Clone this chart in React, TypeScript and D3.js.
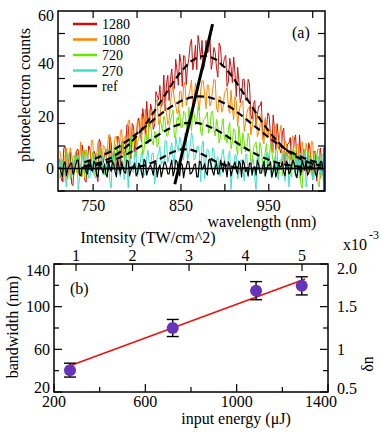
import React from 'react';
import * as d3 from 'd3';

// ---- panel (a): photoelectron spectra
// main samples at 712 + 3i nm, "Mid" samples in between at 713.5 + 3i nm
const specStart = 712;
const specStep = 3;

const spec1280 = [3.5, -5, 8.5, -0.3, 6.2, -6.5, 2.3, 7.2, -2.3, 5, -5.2, 8.6, 1.6, 6.6, -2.7, 11.2, 1.1, 5.5, -0.4, 12.1,
  2.2, 6, 12.3, 1, 10.6, 7.5, 16.3, 3.7, 16, 12.3, 19.2, 10.1, 18.6, 25.6, 15.8, 22.1, 16.5, 27.7, 31.6, 25.2,
  21.9, 35.5, 33.9, 30.6, 41.6, 31.7, 40.3, 43, 32, 42, 49.2, 41.1, 37.7, 46.9, 48.8, 40, 44, 50, 40.8, 44.2,
  34.8, 46.4, 39.2, 43.1, 33, 38.9, 42.5, 27.4, 33, 27.6, 34, 26, 32.4, 18.8, 25.9, 20.6, 23.8, 11.2, 18.6, 21.2,
  12, 20.4, 7.2, 11.7, 5.9, 15.4, 6.5, 9.7, 0.2, 10.7, 2.1, 12.8, -1.3, 5.5, 2.7, 7.2, -4.4, 5.8, 0, 7.8, -2.8];
const spec1280Mid = [-3.6, 7.6, -1.1, 5.4, -5.8, 3.1, 7.2, -1.6, 9, -4.5, 2.9, 7.1, -1.5, 5.2, -5, 9.8, 2.1, 7.4, -1, 10,
  5.7, -0.9, 11.1, 9.4, 3.9, 16.7, 8, 17.1, 6.2, 17, 14.3, 22.8, 12.9, 17.5, 24.6, 14.9, 29.3, 26.1, 23.6, 35.6,
  32.3, 25.9, 37.9, 30.5, 37.5, 43.6, 31.3, 42.7, 39, 47.2, 37.6, 47, 50.7, 41.5, 37.6, 48.8, 44.6, 37.8, 46.1, 38.3,
  47.8, 38.8, 42, 31.3, 42, 32.7, 36.2, 38.6, 25.1, 34, 26, 34, 20.4, 24.4, 16.5, 23.8, 25.5, 13.7, 15.5, 19.8,
  6.6, 15, 17.1, 7.2, 13.5, 2.2, 9.3, 11.8, 3.9, 12.8, -0.6, 5.4, 7.3, -1.1, 9.8, 1.4, 6.7, -4.7, 4.7, -1.9];

const spec1080 = [6.7, -1.6, 4.8, -4.1, 7.9, 1.8, 6.2, -2, 10.1, 1.2, 5, -0.3, 10.6, 1.8, 5, 10.3, 0.2, 8.4, 5.4, 12.9,
  1.6, 12, 8.4, 13.9, 5.5, 12.5, 18.1, 9.1, 14.1, 8.5, 17.7, 20.6, 14.4, 11.1, 22.4, 20.5, 17.1, 26.3, 17.3, 24.3,
  26.5, 16.7, 25, 31.3, 24.2, 21.2, 29.5, 31.3, 24, 27.9, 33.7, 26.2, 29.8, 22.2, 33.4, 27.7, 31.8, 23.8, 29.8, 33.7,
  21.4, 27.2, 23.2, 29.7, 23.4, 29.8, 18.6, 25.6, 21.3, 24.8, 14.1, 21, 23.7, 15.8, 23.4, 12.1, 16.2, 11.2, 19.5, 11.7,
  14.4, 6, 15.1, 7.4, 16.5, 4, 9.6, 7, 10.6, 0.3, 8.9, 3.6, 10.2, 0.7, 6.6, -1.4, 10.1, 2.2, 7.5, -3.9, 3.6];
const spec1080Mid = [4, -5.1, 7.7, 0.9, 5.2, -2.3, 7, 3, -3.1, 7, 5.2, -0.1, 10.8, 2.7, 10.1, 0, 8.9, 5.9, 12.7, 3.4,
  6.8, 12.3, 3.1, 15, 11.5, 8.7, 18.5, 15.1, 8.9, 18.7, 11.8, 17.5, 22.6, 11.5, 21.5, 18.1, 25.2, 16.9, 25.4, 28.9,
  21.3, 18.4, 28.9, 26, 21, 29.2, 23.4, 32.9, 26.3, 30.1, 21.9, 32.6, 25.7, 29.9, 33.4, 22.8, 31.7, 25.8, 33.9, 23,
  27.5, 21.4, 28.6, 30.8, 21, 23.2, 27.4, 16.1, 23.8, 25.8, 17.2, 22.7, 12.8, 18.9, 20.9, 13.8, 21.4, 9.4, 14.2, 15.5,
  7.8, 16.9, 9.2, 13.4, 2.9, 10.7, 4.5, 3.2, 12.5, 4.3, 9.4, -0.8, 6.5, 9.6, 1.6, 10.3, -1.9, 4.2, 7.4, -0.5];

const spec720 = [-3.7, 2.9, 0, 6, -4.1, 4.3, 0.8, 5.1, -2.6, 2.9, 7.2, -1.1, 2.6, -2.6, 4.8, 6.8, 1, -2.3, 7, 4.9,
  1.6, 9.2, 1.2, 7, 8.7, 0.2, 7.3, 12.7, 6.6, 4.2, 11.4, 13.2, 7.2, 10.9, 16.3, 10.4, 14.1, 8.1, 18.4, 14.2,
  18.3, 12.3, 18.2, 22.3, 12.5, 18.3, 15.6, 21.8, 17.2, 23.3, 14.3, 20.9, 17.8, 21.2, 12.6, 18.9, 21.5, 15.1, 21.8, 12.4,
  16, 11.8, 19, 12.4, 14.8, 7.5, 15.2, 8.5, 16.3, 5.5, 10.2, 7.8, 10.8, 1.9, 9.1, 4.4, 9.9, 1.7, 6.7, -0.4,
  9.4, 2.5, 7, -2.9, 3.5, 6.8, -0.6, 4.7, -3.3, 6.8, 1.3, 4.7, -7.5, 7.5, -0.3, 2.6, -2.3, 6.7, -6, 1.2, 5.3];
const spec720Mid = [1.7, -1.3, 6.6, 3.1, -2.9, 5, -1.6, 2.8, 6.5, -3.7, 4.3, 0.8, 6.3, -1.3, 5.5, 8.1, 1.2, -1.6, 7.2, 4.5,
  0, 7, 2, 10.3, 4.8, 8.3, 1.6, 11.2, 5.7, 9.9, 13.5, 5.1, 13.6, 9.4, 17.3, 9, 13.8, 9.7, 16.9, 19.9,
  12.6, 15.6, 20.3, 11.7, 19.3, 22.1, 15.7, 21.3, 13.7, 19.7, 22.1, 16.7, 23.7, 13.9, 18.5, 19.9, 13.5, 21.5, 15, 18.7,
  9.7, 16.3, 10.9, 9.7, 17.5, 10.2, 14.3, 5.2, 11.2, 13.6, 6.3, 13.5, 2.8, 7.6, 10.1, 3, 7.3, -0.9, 9.5, 3,
  6.3, -0.7, 6.9, 3, -2.7, 5.5, 3.6, -1.4, 7.5, 0.2, 6, -6, 4, 0.9, 6.3, -2.3, 0.1, 4.3, -7, 5.4];

const spec270 = [4.1, 1.7, -1.9, 5.3, -3.1, 2.3, 3.5, -8, 1.1, 5.9, -0.7, -3.7, 2.9, 4.1, -2.5, 0.5, 5.3, -1.3, 1.7, -4.9,
  4.7, -0.1, 3.5, -3.1, 2.4, 6, -7.5, 1.4, -1.5, 4.6, -0.1, 6.1, -2.6, 4.3, 1.7, 5.7, -6, 4.8, 8.4, 2.9,
  10.7, 2.3, 7.1, 4, 12.2, 6.5, 9.7, 3.2, 11.6, 5.5, 13.7, 3.2, 8.2, 5.9, 9, -4, 7.3, 2.5, 7.9, -0.4,
  4.5, -2.6, 7.3, 0.4, 4.9, -8, 1.6, 5.1, -2.2, 3.1, -4.8, 5.3, -0.1, 3.5, -3.7, 6.5, -1.3, 1.7, -3.1, 5.9,
  -1.9, 0.5, 4.7, -4.3, 2.3, -0.7, 5.3, -7, 3.5, -0.1, 4.1, -3.7, 1.7, 5.9, -2.5, 1.1, -4.3, 2.9, 4.7, -1.3, -4.9];
const spec270Mid = [-0.7, 2.3, -7, 4.1, -1.9, 1.7, 4.7, -4.3, 3.5, -1.3, 5.9, -3.1, 1.1, -3.7, 2.9, 5.3, -2.5, -0.1, 4.1, -7.5,
  2.3, 4.7, -1.9, 3.6, -4.2, 1.9, 4.4, -1, 6.4, -3.2, 1.8, 3.9, -1.9, 6.9, 1.3, 5.9, -2.1, 5.7, 1.5, 1.4,
  10.4, 4.4, 9.8, 1.8, 8.8, 12, 5.6, 13.4, 3.2, 8.4, 11.2, 4.2, 8.6, -5, 10.5, 4, 7, -0.2, 7.1, 3,
  -3, 5.1, 3, -2.2, 6.6, -0.8, 5.2, -4, 3.2, 0.1, 5.4, -3.1, -0.7, 3.5, -8, 4.7, 1.1, -1.9, 5.9, 2.3,
  -3.7, 4.1, -2.5, 1.7, 5.3, -4.9, 2.9, -0.7, 4.7, -3.1, 3.5, 5.9, -1.3, -7, 4.1, 1.1, -3.7, 2.9, -2.5, 5.3];

const specRef = [0.7, -3.2, 2.5, -0.4, 1.8, -2.1, 1.1, 3.2, -2.8, 0.4, -1.4, 2.1, -0.7, 2.8, -2.5, 1.4, -0.4, 1.8, -3.2, 0.7,
  2.5, -1.1, 3.2, -2.1, 0.4, -1.8, 2.8, -0.7, 1.1, -2.8, 2.1, -1.4, 3.5, -2.5, 0.7, -0.4, 1.8, -3.2, 1.4, -1.1,
  2.5, -2.1, 1.1, -2.8, 3.2, -0.7, 2.1, -3.5, 0.4, 2.5, -1.8, 1.4, -3.2, 2.8, -0.4, 1.8, -2.5, 3.5, -1.1, 0.7,
  -2.1, 3.2, -1.4, 0, 2.5, -2.8, 1.1, -0.7, 2.8, -3.2, 1.8, -0.4, 2.1, -2.5, 0.7, 3.2, -1.8, 0.4, -2.8, 1.4,
  2.5, -1.1, -3.2, 2.1, 0.7, -1.4, 2.8, -2.1, 1.1, 1.8, -3.5, 0.4, 3.2, -0.7, -2.5, 1.4, 2.1, -1.8, 0, 2.8, -1.1];
const specRefMid = [-1.4, 1.8, -2.8, 0.7, 2.1, -1.1, 3.2, -2.5, 0.4, 1.4, -2.1, 2.8, -0.7, 1.8, -3.2, 1.1, -1.8, -2.1, 2.8, -1.1,
  1.8, -3.2, 0.7, 2.5, -1.4, 3.2, -2.8, 0.4, 2.1, -1.8, 1.1, -3.5, 2.8, -0.7, 1.4, -2.5, 2.1, 0, -3.2, 1.8,
  0.7, -2.1, 3.2, -1.1, 2.5, -2.8, 1.4, -0.4, 2.8, -2.1, -0.7, 1.8, -3.2, 2.5, 0.4, -1.4, 3.2, 1.1, -2.5, 2.1,
  -1.8, 0.7, 2.8, -3.2, 1.4, -0.7, 2.5, -2.1, 1.8, 3.2, -1.1, -2.8, 2.1, 0.4, -2.5, 1.4, -1.8, 2.8, -0.7, 1.1,
  -3.2, 2.1, -1.4, 0.7, 2.5, -2.8, 1.8, -1.1, 3.2, -2.1, 0.4, -2.5, 1.4, 2.8, -1.8, -0.4, 2.1, -3.2, 1.1, 2.5];

// gaussian fits (dashed), every 10 nm from 740 nm
const fitStart = 740;
const fitStep = 10;
const fit1280 = [0.86, 1.5, 2.5, 4.0, 6.1, 8.9, 12.5, 16.9, 21.9, 27.1, 32.3, 36.9, 40.5, 42.6, 43, 41.5, 38.5, 34.3, 29.3, 24,
  18.8, 14.2, 10.2, 7.1, 4.7, 3.0, 1.8, 1.1];
const fit1080 = [2.4, 3.5, 4.8, 6.5, 8.5, 10.8, 13.4, 16.1, 18.9, 21.5, 23.8, 25.7, 27, 27.5, 27.3, 26.3, 24.7, 22.5, 20, 17.2,
  14.5, 11.8, 9.4, 7.2, 5.4, 4.0, 2.8, 2.0];
const fit720 = [0.7, 1.1, 1.8, 2.8, 4.1, 5.7, 7.6, 9.7, 11.9, 14, 15.8, 17, 17.5, 17.3, 16.3, 14.8, 12.8, 10.6, 8.4, 6.4,
  4.7, 3.3, 2.2, 1.4, 0.9, 0.5, 0.3, 0.15];
const fit270 = [0, 0, 0, 0, 0.06, 0.2, 0.5, 1.3, 2.6, 4.4, 6.2, 7.3, 7.3, 6.2, 4.4, 2.6, 1.3, 0.5, 0.2, 0.06,
  0, 0, 0, 0, 0, 0, 0, 0];

// the steep "ref" line and the little blue mark at the right edge
const refLineX = [843, 886];
const refLineY = [-6, 55];
const blueX = [1013, 1013];
const blueY = [8, -9];

const legendLabels = ['1280', '1080', '720', '270', 'ref'];
const legendColors = ['#cc1010', '#ff8400', '#66e600', '#40e0c8', '#000000'];

const xTicksA = [750, 800, 850, 900, 950, 1000];
const xLabelsA = [750, 850, 950];
const yLabelsA = [0, 20, 40, 60];

// ---- panel (b): bandwidth vs input energy
const energy = [270, 720, 1085, 1285];
const bandwidth = [40.5, 80, 115, 119.5];
const bwError = [6.5, 8, 8.5, 8.5];
const fitEnergy = [255, 1300];
const fitBandwidth = [43.5, 126];

const xTicksB = [200, 400, 600, 800, 1000, 1200, 1400];
const xLabelsB = [200, 600, 1000, 1400];
const yTicksB = [20, 40, 60, 80, 100, 120, 140];
const yLabelsB = [20, 60, 100, 140];
const intensityTicks = [1, 2, 3, 4, 5];
const dnTicks = [0.5, 0.75, 1, 1.25, 1.5, 1.75, 2.0];
const dnLabels = ['0.5', '1', '1.5', '2.0'];

const FONT = "'Liberation Serif', 'Times New Roman', serif";

// main + in-between samples -> one sorted series
const interleave = (main: number[], mid: number[]): [number, number][] => {
  const out: [number, number][] = [];
  main.forEach((v, i) => {
    out.push([specStart + i * specStep, v]);
    if (i < mid.length) out.push([specStart + i * specStep + specStep / 2, mid[i]]);
  });
  return out;
};

const App = () => {
  // panel (a) scales
  const xa = d3.scaleLinear().domain([710, 1014]).range([58, 325]);
  const ya = d3.scaleLinear().domain([-60 / 7, 60]).range([191, 11]);
  const yaTicks = d3.range(8).map((k) => -60 / 7 + (k * 60) / 7);

  const fitX = fit1280.map((_, i) => fitStart + i * fitStep);

  const line = d3
    .line<[number, number]>()
    .x((d) => xa(d[0]))
    .y((d) => ya(d[1]));
  const path = (xs: number[], ys: number[]) => line(xs.map((x, i) => [x, ys[i]]) as [number, number][]) || '';

  const spectra = [
    interleave(spec1280, spec1280Mid),
    interleave(spec1080, spec1080Mid),
    interleave(spec720, spec720Mid),
    interleave(spec270, spec270Mid),
    interleave(specRef, specRefMid),
  ];
  const fits = [fit1280, fit1080, fit720, fit270];

  // panel (b) scales
  const xb = d3.scaleLinear().domain([200, 1400]).range([54, 328]);
  const yb = d3.scaleLinear().domain([20, 140]).range([392, 264]);
  const xi = d3.scaleLinear().domain([0.61, 5.46]).range([54, 328]);
  const yn = d3.scaleLinear().domain([0.5, 2.0]).range([392, 264]);

  const lineB = d3
    .line<[number, number]>()
    .x((d) => xb(d[0]))
    .y((d) => yb(d[1]));

  const clampY = (v: number, lo: number, hi: number) => Math.min(Math.max(v, lo), hi);

  return (
    <svg
      width={381}
      height={433}
      style={{ position: 'absolute', left: 0, top: 0, background: '#fff' }}
      fontFamily={FONT}
    >
      <defs>
        <clipPath id="clipA">
          <rect x={58} y={11} width={267} height={180} />
        </clipPath>
      </defs>

      {/* ===== panel (a) ===== */}
      <g clipPath="url(#clipA)">
        {spectra.map((s, k) => (
          <path
            key={k}
            d={line(s) || ''}
            fill="none"
            stroke={legendColors[k]}
            strokeWidth={k === 4 ? 1.2 : 1}
            strokeLinejoin="round"
          />
        ))}
        <line x1={58} x2={325} y1={ya(0)} y2={ya(0)} stroke="#000" strokeWidth={1.5} />
        {fits.map((f, k) => (
          <path key={k} d={path(fitX, f)} fill="none" stroke="#000" strokeWidth={2.2} strokeDasharray="7,4" />
        ))}
        <path d={path(refLineX, refLineY)} stroke="#000" strokeWidth={3} fill="none" />
        <path d={path(blueX, blueY)} stroke="#2040ff" strokeWidth={2} fill="none" />
      </g>

      {/* frame + ticks */}
      <rect x={58} y={11} width={267} height={180} fill="none" stroke="#000" strokeWidth={1.5} />
      {xTicksA.map((t) => (
        <g key={t} stroke="#000" strokeWidth={1.2}>
          <line x1={xa(t)} x2={xa(t)} y1={191} y2={184} />
          <line x1={xa(t)} x2={xa(t)} y1={11} y2={18} />
        </g>
      ))}
      {yaTicks.map((t, i) => (
        <g key={i} stroke="#000" strokeWidth={1.2}>
          <line x1={58} x2={65} y1={ya(t)} y2={ya(t)} />
          <line x1={325} x2={318} y1={ya(t)} y2={ya(t)} />
        </g>
      ))}
      {xLabelsA.map((t) => (
        <text key={t} x={xa(t)} y={211} fontSize={16} textAnchor="middle">
          {t}
        </text>
      ))}
      {yLabelsA.map((t) => (
        <text key={t} x={54} y={clampY(ya(t), 15, 200) + 5.5} fontSize={16} textAnchor="end">
          {t}
        </text>
      ))}
      <text x={262} y={227} fontSize={16} textAnchor="middle">
        wavelength (nm)
      </text>
      <text transform="translate(30,95) rotate(-90)" fontSize={16} textAnchor="middle">
        photoelectron counts
      </text>
      <text x={292} y={38} fontSize={16}>
        (a)
      </text>

      {/* legend */}
      {legendLabels.map((lab, i) => (
        <g key={lab}>
          <line x1={73} x2={97} y1={24 + i * 15.5} y2={24 + i * 15.5} stroke={legendColors[i]} strokeWidth={2.5} />
          <text x={102} y={24 + i * 15.5 + 5} fontSize={14}>
            {lab}
          </text>
        </g>
      ))}

      {/* ===== panel (b) ===== */}
      <path
        d={lineB(fitEnergy.map((e, i) => [e, fitBandwidth[i]]) as [number, number][]) || ''}
        stroke="#ee1111"
        strokeWidth={1.6}
        fill="none"
      />
      {energy.map((e, i) => (
        <g key={e} stroke="#000" strokeWidth={1.4}>
          <line x1={xb(e)} x2={xb(e)} y1={yb(bandwidth[i] - bwError[i])} y2={yb(bandwidth[i] + bwError[i])} />
          <line x1={xb(e) - 6} x2={xb(e) + 6} y1={yb(bandwidth[i] - bwError[i])} y2={yb(bandwidth[i] - bwError[i])} />
          <line x1={xb(e) - 6} x2={xb(e) + 6} y1={yb(bandwidth[i] + bwError[i])} y2={yb(bandwidth[i] + bwError[i])} />
          <circle cx={xb(e)} cy={yb(bandwidth[i])} r={6} fill="#6633bb" stroke="none" />
        </g>
      ))}

      <rect x={54} y={264} width={274} height={128} fill="none" stroke="#000" strokeWidth={1.5} />
      {xTicksB.map((t) => (
        <line key={t} x1={xb(t)} x2={xb(t)} y1={392} y2={xLabelsB.includes(t) ? 384 : 387} stroke="#000" strokeWidth={1.2} />
      ))}
      {intensityTicks.map((t) => (
        <line key={t} x1={xi(t)} x2={xi(t)} y1={264} y2={271} stroke="#000" strokeWidth={1.2} />
      ))}
      {yTicksB.map((t) => (
        <line key={t} x1={54} x2={yLabelsB.includes(t) ? 62 : 59} y1={yb(t)} y2={yb(t)} stroke="#000" strokeWidth={1.2} />
      ))}
      {dnTicks.map((t) => (
        <line
          key={t}
          x1={328}
          x2={dnLabels.includes(String(t)) || t === 2 ? 320 : 323}
          y1={yn(t)}
          y2={yn(t)}
          stroke="#000"
          strokeWidth={1.2}
        />
      ))}

      {xLabelsB.map((t) => (
        <text key={t} x={Math.min(xb(t), 321)} y={407} fontSize={16} textAnchor="middle">
          {t}
        </text>
      ))}
      {yLabelsB.map((t) => (
        <text key={t} x={50} y={clampY(yb(t), 270, 387) + 5.5} fontSize={16} textAnchor="end">
          {t}
        </text>
      ))}
      {intensityTicks.map((t) => (
        <text key={t} x={xi(t)} y={261} fontSize={16} textAnchor="middle">
          {t}
        </text>
      ))}
      {dnLabels.map((lab) => (
        <text key={lab} x={337} y={clampY(yn(+lab), 268, 388) + 5.5} fontSize={16}>
          {lab}
        </text>
      ))}
      <text x={343} y={250} fontSize={16}>
        x10
      </text>
      <text x={369} y={239} fontSize={12}>
        -3
      </text>
      <text x={148} y={243} fontSize={16} textAnchor="middle">
        Intensity (TW/cm^2)
      </text>
      <text x={236} y={424} fontSize={16} textAnchor="middle">
        input energy (μJ)
      </text>
      <text transform="translate(18,327) rotate(-90)" fontSize={16} textAnchor="middle">
        bandwidth (nm)
      </text>
      <text transform="translate(373,364) rotate(-90)" fontSize={16} textAnchor="middle">
        δn
      </text>
      <text x={70} y={294} fontSize={16}>
        (b)
      </text>
    </svg>
  );
};

export default App;
